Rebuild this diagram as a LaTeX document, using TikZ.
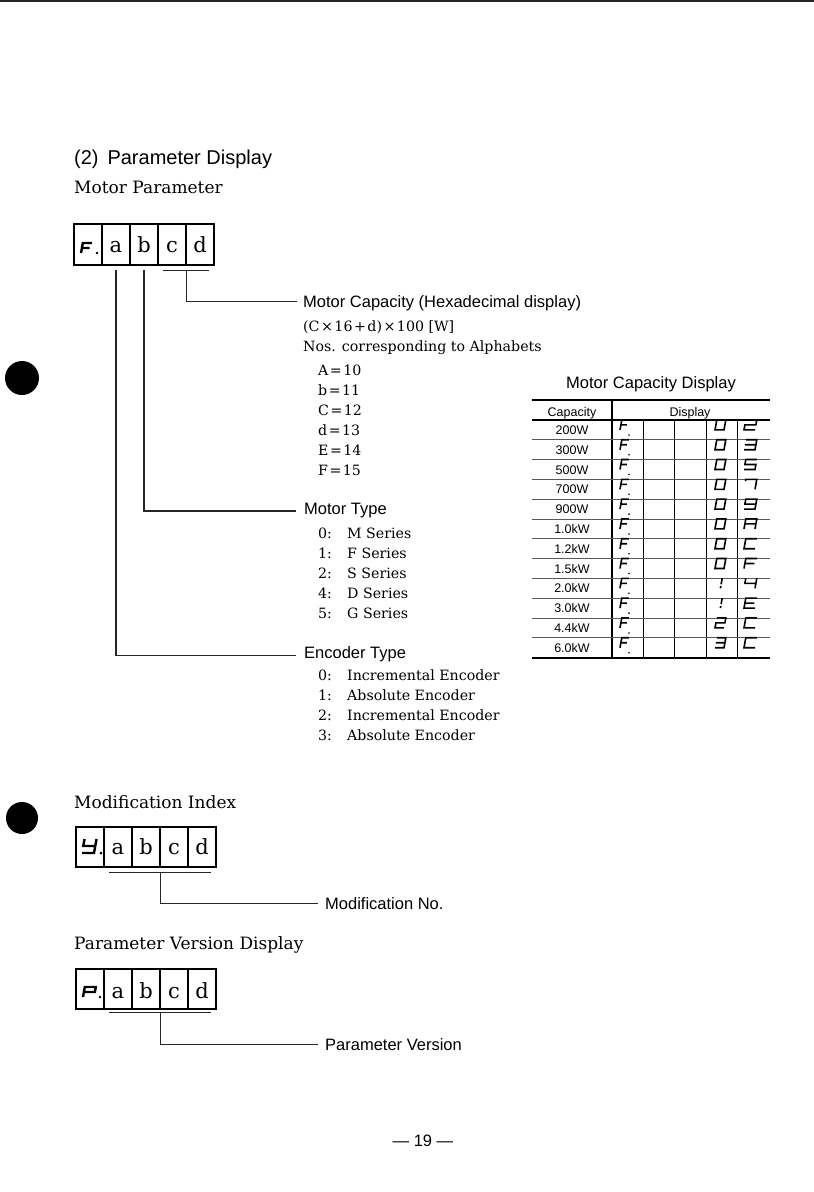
\documentclass[tikz,border=0pt]{standalone}
\usepackage{fontspec}
\setmainfont{DejaVu Serif}
\newfontfamily\hv{Liberation Sans}
\def\gZero{(0,0)--(1,0)--(1,2)--(0,2)--cycle}
\def\gOne{(0.6,0)--(0.6,0.45) (0.6,0.8)--(0.6,2)}
\def\gTwo{(0,2)--(1,2)--(1,1)--(0,1)--(0,0)--(1,0)}
\def\gThree{(0,2)--(1,2)--(1,0)--(0,0) (0,1)--(1,1)}
\def\gFour{(0,2)--(0,1)--(1,1) (1,2)--(1,0)}
\def\gFive{(1,2)--(0,2)--(0,1)--(1,1)--(1,0)--(0,0)}
\def\gSeven{(0,1.65)--(0,2)--(1,2)--(1,0)}
\def\gNine{(1,1)--(0,1)--(0,2)--(1,2)--(1,0)--(0,0)}
\def\gA{(0,0)--(0,2)--(1,2)--(1,0) (0,1)--(1,1)}
\def\gC{(1,2)--(0,2)--(0,0)--(1,0)}
\def\gE{(1,2)--(0,2)--(0,0)--(1,0) (0,1)--(0.85,1)}
\def\gF{(1,2)--(0,2)--(0,0) (0,1)--(0.85,1)}
\def\gP{(0,0)--(0,2)--(1,2)--(1,1)--(0,1)}
\def\gY{(0,2)--(0,1)--(1,1) (1,2)--(1,0)--(0,0)}
% x, y of bottom-left, width, half height, path, style
\newcommand\sseg[6]{%
  \begin{scope}[shift={(#1,#2)},x=#3pt,y=#4pt,xslant=0.18]
    \edef\tmppath{\noexpand\draw[#6] #5;}\tmppath
  \end{scope}}
\begin{document}
\begin{tikzpicture}[x=1pt,y=-1pt,
  cellbox/.style={draw,line width=1.1pt,minimum width=28pt,inner sep=0pt,
    font=\fontsize{21}{21}\selectfont,text depth=0pt},
  conn/.style={line width=1.1pt,draw=black!85},
  lbl/.style={anchor=base west,inner sep=0pt,font=\hv\fontsize{16.5}{18}\selectfont},
  body/.style={anchor=base west,inner sep=0pt,font=\fontsize{14.2}{16}\selectfont},
  head/.style={anchor=base west,inner sep=0pt,font=\fontsize{17}{20}\selectfont},
  tab/.style={inner sep=0pt,anchor=base,font=\hv\fontsize{12.5}{14}\selectfont},
  segB/.style={line width=2.4pt,line join=miter},
  segT/.style={line width=1.6pt,line join=miter},
  rowline/.style={line width=0.8pt,draw=black!65}]
\useasboundingbox (0,0) rectangle (814,1192);

% page marks
\draw[line width=2.5pt,black!85] (0,1.2) -- (814,1.2);
\fill (22,378) circle (17pt);
\fill (22,818) circle (16pt);

% headings
\node[head,font=\hv\fontsize{20}{22}\selectfont] (title) at (74,164) {(2)\, Parameter Display};
\node[head] (mp) at (74,193) {Motor Parameter};

% ---- Motor parameter box
\foreach \n/\x/\t in {0/88/{},1/116/a,2/144/b,3/172/c,4/200/d}
  \node[cellbox,minimum height=41pt,text height=16.5pt] (m\n) at (\x,244.5) {\t};
\sseg{81}{253}{9}{5}{\gF}{segB}
\fill (97,253) circle (1.3pt);

\coordinate (cdl) at ([xshift=6pt,yshift=-5pt]m3.south west);
\coordinate (cdr) at ([xshift=-6pt,yshift=-5pt]m4.south east);
\coordinate (cdj) at ([yshift=-5pt]m3.south east);
\draw[conn] (cdl) -- (cdr);

\node[lbl] (capL) at (303,307) {Motor Capacity (Hexadecimal display)};
\node[body] (form) at (303,331) {(C\kern1.5pt×\kern1.5pt16\kern1.5pt+\kern1.5pt d)\kern1.5pt×\kern1.5pt100 [W]};
\node[body] (nos) at (303,351) {Nos. corresponding to Alphabets};
\foreach \t [count=\i from 0] in {A\kern1.5pt=\kern1.5pt10,b\kern1.5pt=\kern1.5pt11,C\kern1.5pt=\kern1.5pt12,d\kern1.5pt=\kern1.5pt13,E\kern1.5pt=\kern1.5pt14,F\kern1.5pt=\kern1.5pt15}
  \node[body] (hx\i) at (318,{375+20*\i}) {\t};

\node[lbl] (typL) at (304,514) {Motor Type};
\foreach \k/\t [count=\i from 0] in {0/M Series,1/F Series,2/S Series,4/D Series,5/G Series}{
  \node[body] (tk\i) at (318,{538+20*\i}) {\k:};
  \node[body] (tt\i) at (347,{538+20*\i}) {\t};}

\node[lbl] (encL) at (304,658) {Encoder Type};
\foreach \k/\t [count=\i from 0] in {0/Incremental Encoder,1/Absolute Encoder,2/Incremental Encoder,3/Absolute Encoder}{
  \node[body] (ek\i) at (318,{680+20*\i}) {\k:};
  \node[body] (et\i) at (347,{680+20*\i}) {\t};}

\draw[conn] (cdj) |- ([xshift=-6pt,yshift=1pt]capL.west);
\draw[conn] ([yshift=-4pt]m2.south) |- ([xshift=-8pt,yshift=-1pt]typL.west);
\draw[conn] ([yshift=-4pt]m1.south) |- ([xshift=-8pt,yshift=-2pt]encL.west);

% ---- table
\node[lbl,anchor=base,font=\hv\fontsize{16.5}{18}\selectfont] (tabT) at (651,388) {Motor Capacity Display};
\draw[line width=1.1pt] (532,400) -- (770,400);
\draw[line width=1.6pt] (532,420) -- (770,420);
\draw[line width=1.8pt] (532,658) -- (770,658);
\draw[line width=1.1pt] (612,400) -- (612,658);
\foreach \x in {643,674,706,737} \draw[line width=1pt] (\x,420) -- (\x,658);
\foreach \k in {1,...,11} \draw[rowline] (532,{420+19.8*\k}) -- (770,{420+19.8*\k});
\node[tab] (hCap) at (572,416) {Capacity};
\node[tab] (hDis) at (690,416) {Display};
\foreach \cp/\d/\e [count=\i from 0] in {200W/\gZero/\gTwo,300W/\gZero/\gThree,500W/\gZero/\gFive,
  700W/\gZero/\gSeven,900W/\gZero/\gNine,1.0kW/\gZero/\gA,1.2kW/\gZero/\gC,1.5kW/\gZero/\gF,
  2.0kW/\gOne/\gFour,3.0kW/\gOne/\gE,4.4kW/\gTwo/\gC,6.0kW/\gThree/\gC}{
  \node[tab] (r\i) at (572,{420+19.8*(\i+0.5)+4.5}) {\cp};
  \sseg{620}{420+19.8*(\i+0.5)+5}{7}{5}{\gF}{segT}
  \fill (629,{420+19.8*(\i+0.5)+5}) circle (0.9pt);
  \sseg{715}{420+19.8*(\i+0.5)+5}{9}{5}{\d}{segT}
  \sseg{744}{420+19.8*(\i+0.5)+5}{11}{5}{\e}{segT}
}

% ---- Modification index
\node[head] (mi) at (74,808) {Modification Index};
\foreach \n/\x/\t in {0/90/{},1/118/a,2/146/b,3/174/c,4/202/d}
  \node[cellbox,minimum height=40pt,text height=15.5pt] (y\n) at (\x,847) {\t};
\sseg{82}{853}{12}{7}{\gY}{segB}
\fill (101,853) circle (1.5pt);
\coordinate (yl) at ([xshift=6pt,yshift=-5pt]y1.south west);
\coordinate (yr) at ([xshift=-6pt,yshift=-5pt]y4.south east);
\coordinate (yj) at ([yshift=-5pt]y2.south east);
\draw[conn] (yl) -- (yr);
\node[lbl] (modL) at (325,909) {Modification No.};
\draw[conn] (yj) |- ([xshift=-7pt]modL.west);

% ---- Parameter version
\node[head] (pv) at (74,949) {Parameter Version Display};
\foreach \n/\x/\t in {0/90/{},1/118/a,2/146/b,3/174/c,4/202/d}
  \node[cellbox,minimum height=40pt,text height=19pt] (p\n) at (\x,989) {\t};
\sseg{83}{997}{11}{5}{\gP}{segB}
\fill (100,997) circle (1.4pt);
\coordinate (pl) at ([xshift=6pt,yshift=-3pt]p1.south west);
\coordinate (pr) at ([xshift=-6pt,yshift=-3pt]p4.south east);
\coordinate (pj) at ([yshift=-3pt]p2.south east);
\draw[conn] (pl) -- (pr);
\node[lbl] (verL) at (325,1050) {Parameter Version};
\draw[conn] (pj) |- ([xshift=-7pt]verL.west);

% page number
\node[lbl,anchor=base,font=\hv\fontsize{16.5}{18}\selectfont] (pg) at (423,1146) {— 19 —};
\end{tikzpicture}
\end{document}
